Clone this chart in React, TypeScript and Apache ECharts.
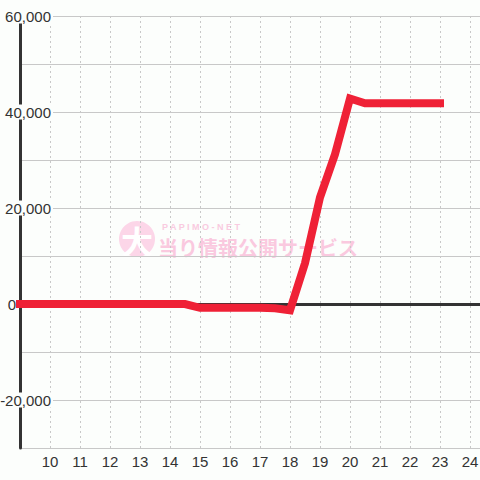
import React, { useEffect, useRef } from "react";
import * as echarts from "echarts";

const hours = [9, 9.5, 10, 10.5, 11, 11.5, 12, 12.5, 13, 13.5, 14, 14.5, 15, 15.5, 16, 16.5, 17, 17.5, 18, 18.5, 19, 19.5, 20, 20.5, 21, 21.5, 22, 22.5, 23];
const values = [0, 0, 0, 0, 0, 0, 0, 0, 0, 0, 0, 0, -800, -800, -800, -800, -800, -900, -1300, 8500, 22200, 31200, 42800, 41800, 41800, 41800, 41800, 41800, 41800];
const yTickLabels = [-20000, 0, 20000, 40000, 60000];
const xTickLabels = [10, 11, 12, 13, 14, 15, 16, 17, 18, 19, 20, 21, 22, 23, 24];

const BG = "#fcfefc";
const FONT = "'Liberation Sans', Arial, sans-serif";

export default function App() {
  const ref = useRef<HTMLDivElement>(null);
  useEffect(() => {
    if (!ref.current) return;
    const chart = echarts.init(ref.current, undefined, { renderer: "svg" });
    const data = hours.map((h, i) => [h, values[i]]);
    chart.setOption({
      animation: false,
      backgroundColor: BG,
      grid: { left: 20, right: 0, top: 16, bottom: 32, containLabel: false, outerBoundsMode: "none" },
      xAxis: {
        type: "value",
        min: 9,
        max: 24.3333,
        interval: 1,
        z: 0,
        axisLine: { show: true, onZero: true, lineStyle: { color: "#333", width: 3 } },
        axisTick: { show: false },
        axisLabel: {
          margin: 6,
          fontSize: 15,
          fontFamily: FONT,
          color: "#333",
          formatter: (v: number) => (xTickLabels.includes(v) ? String(v) : ""),
        },
        splitLine: { show: true, lineStyle: { color: "#c8c8c8", type: [2, 3], width: 1 } },
      },
      yAxis: [
        {
          type: "value",
          position: "left",
          min: -30000,
          max: 60000,
          interval: 10000,
          z: 0,
          axisLine: { show: false },
          axisTick: { show: false },
          axisLabel: { show: false },
          splitLine: { show: true, lineStyle: { color: "#c8c8c8", width: 1 } },
        },
        {
          type: "value",
          position: "left",
          min: -30000,
          max: 60000,
          interval: 10000,
          z: 1,
          axisLine: { show: true, onZero: false, lineStyle: { color: "#333", width: 3 } },
          axisTick: { show: false },
          splitLine: { show: false },
          axisLabel: {
            margin: -33,
            align: "right",
            fontSize: 15,
            fontFamily: FONT,
            color: "#333",
            formatter: (v: number) => {
              if (!yTickLabels.includes(v)) return "";
              if (v === 0) return "{z|0}";
              return "{n|" + v.toLocaleString("en-US") + "}";
            },
            rich: {
              n: { backgroundColor: BG, padding: [0, 2, 0, 2], fontSize: 15, fontFamily: FONT, color: "#333", lineHeight: 16 },
              z: { padding: [0, 37, 0, 0], fontSize: 15, fontFamily: FONT, color: "#333", lineHeight: 16 },
            },
          },
        },
      ],
      graphic: [
        {
          type: "group",
          z: 1,
          silent: true,
          children: [
            { type: "circle", shape: { cx: 137, cy: 239, r: 18 }, style: { fill: "#fcd6e8" } },
            {
              type: "text",
              x: 137,
              y: 240,
              style: { text: "大", fill: "#ffffff", font: "bold 32px 'Noto Sans CJK JP'", align: "center", verticalAlign: "middle" },
            },
            {
              type: "text",
              x: 162,
              y: 227,
              style: { text: "P A P I M O - N E T", fill: "#f9cbe0", font: "bold 9px 'Liberation Sans', Arial", align: "left", verticalAlign: "middle" },
            },
            {
              type: "text",
              x: 158,
              y: 247,
              style: { text: "当り情報公開サービス", fill: "#fac9df", font: "bold 20px 'Noto Sans CJK JP'", align: "left", verticalAlign: "middle" },
            },
          ],
        },
      ],
      series: [
        {
          type: "line",
          z: 2,
          xAxisIndex: 0,
          yAxisIndex: 0,
          data,
          showSymbol: false,
          clip: false,
          lineStyle: { color: "#ef2136", width: 8, cap: "square", join: "miter" },
        },
      ],
    });
    return () => chart.dispose();
  }, []);
  return (
    <div
      ref={ref}
      style={{ position: "fixed", left: 0, top: 0, width: 480, height: 480, background: BG }}
    />
  );
}
